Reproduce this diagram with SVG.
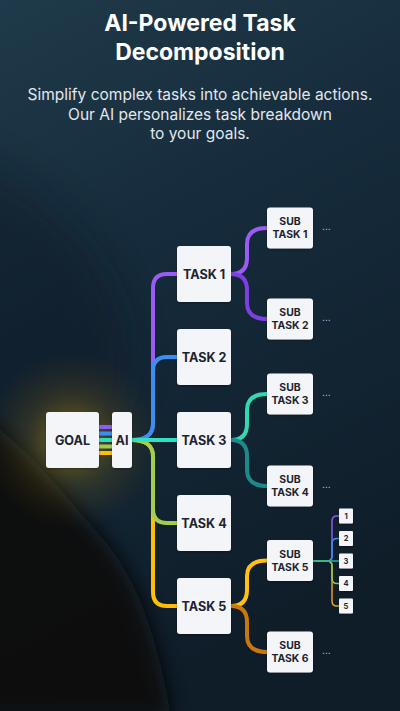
<svg xmlns="http://www.w3.org/2000/svg" width="400" height="711" viewBox="0 0 400 711">
<defs>
<linearGradient id="bg" x1="0" y1="0" x2="0.3" y2="1">
<stop offset="0" stop-color="#1f3a4a"/>
<stop offset="0.45" stop-color="#152a3a"/>
<stop offset="1" stop-color="#0f1d29"/>
</linearGradient>
<radialGradient id="glow" cx="72" cy="440" r="90" gradientUnits="userSpaceOnUse">
<stop offset="0" stop-color="#d4a514" stop-opacity="0.6"/>
<stop offset="0.5" stop-color="#8a6a12" stop-opacity="0.25"/>
<stop offset="1" stop-color="#5a4410" stop-opacity="0"/>
</radialGradient>
<filter id="blur" x="-50%" y="-50%" width="200%" height="200%"><feGaussianBlur stdDeviation="10"/></filter>
<filter id="blur2" x="-50%" y="-50%" width="200%" height="200%"><feGaussianBlur stdDeviation="20"/></filter>
<filter id="sh" x="-20%" y="-20%" width="140%" height="140%"><feDropShadow dx="0" dy="1" stdDeviation="1.2" flood-color="#000" flood-opacity="0.35"/></filter>
<style>
.box{fill:#f3f5f8;filter:url(#sh)}
.lbl{font-family:Inter,"Liberation Sans",sans-serif;font-weight:700;fill:#1d2430;text-anchor:middle}
.t{font-size:12.6px}
.s{font-size:10.4px}
.n{font-size:7.5px}
.c{fill:none;stroke-width:4;stroke-linecap:round;stroke-linejoin:round}
.m{fill:none;stroke-width:1.5;stroke-linecap:round}
.dots{font-family:Inter,"Liberation Sans",sans-serif;font-size:10px;fill:#c5cbd3}
.title{font-family:Inter,"Liberation Sans",sans-serif;font-weight:700;font-size:23px;fill:#ffffff;text-anchor:middle}
.sub{font-family:Inter,"Liberation Sans",sans-serif;font-size:15.5px;fill:#e3e7ec;text-anchor:middle}
</style>
</defs>
<rect width="400" height="711" fill="url(#bg)"/>
<path d="M-80,140 C20,170 100,230 125,330 C135,380 120,420 100,440 L-80,440 Z" fill="#0c1822" opacity="0.45" filter="url(#blur2)"/>
<path d="M-60,395 C10,420 60,490 100,535 C140,580 158,640 172,720 L-60,720 Z" fill="#08090b" opacity="0.95" filter="url(#blur)"/>
<circle cx="72" cy="440" r="90" fill="url(#glow)"/>

<g id="title">
<text class="title" x="200" y="31">AI-Powered Task</text>
<text class="title" x="200" y="60">Decomposition</text>
<text class="sub" x="200" y="100">Simplify complex tasks into achievable actions.</text>
<text class="sub" x="200" y="119.5">Our AI personalizes task breakdown</text>
<text class="sub" x="200" y="139">to your goals.</text>
</g>

<g id="connectors">
<g id="goal-ai" stroke-width="4" fill="none">
<line x1="99" y1="427" x2="112" y2="427" stroke="#8b5cf6"/>
<line x1="99" y1="433.5" x2="112" y2="433.5" stroke="#3b8ff2"/>
<line x1="99" y1="440" x2="112" y2="440" stroke="#2fdcc0"/>
<line x1="99" y1="446.5" x2="112" y2="446.5" stroke="#9fce4a"/>
<line x1="99" y1="453" x2="112" y2="453" stroke="#ffbe0a"/>
</g>
<path class="c" stroke="#9a5cf4" d="M132,440 C146,440 153,434 153,424 V288 Q153,274 167,274 H177"/>
<path class="c" stroke="#3b8ff2" d="M132,440 C146,440 153,434 153,424 V371 Q153,357 167,357 H177"/>
<path class="c" stroke="#ffbe0a" d="M132,440 C146,440 153,446 153,456 V592 Q153,606 167,606 H177"/>
<path class="c" stroke="#a3d04c" d="M132,440 C146,440 153,446 153,456 V509 Q153,523 167,523 H177"/>
<path class="c" stroke="#2fe0c2" d="M132,440 H177"/>

<path class="c" stroke="#9a5cf4" d="M231,274 C242,274 247,268 247,258 V244 C247,234 253,228 267,228"/>
<path class="c" stroke="#7b3fe4" d="M231,274 C242,274 247,280 247,290 V303 C247,313 253,319 267,319"/>
<path class="c" stroke="#2ed9b4" d="M231,440 C242,440 247,434 247,424 V410 C247,400 253,394 267,394"/>
<path class="c" stroke="#1d8a8a" d="M231,440 C242,440 247,446 247,456 V470 C247,480 253,486 267,486"/>
<path class="c" stroke="#ffc20e" d="M231,606 C242,606 247,600 247,590 V576 C247,566 253,560.5 267,560.5"/>
<path class="c" stroke="#c9780f" d="M231,606 C242,606 247,612 247,622 V636 C247,646 253,652 267,652"/>

<path class="m" stroke="#8a5cf0" d="M313,561 H327 Q332,561 332,556 V521 Q332,516 337,516 H339"/>
<path class="m" stroke="#3b8ff2" d="M313,561 H327 Q332,561 332,556 V543.5 Q332,538.5 337,538.5 H339"/>
<path class="m" stroke="#e6a11c" d="M313,561 H327 Q332,561 332,566 V601 Q332,606 337,606 H339"/>
<path class="m" stroke="#9bc34a" d="M313,561 H327 Q332,561 332,566 V578.5 Q332,583.5 337,583.5 H339"/>
<path class="m" stroke="#1fb39a" d="M313,561 H339"/>
</g>

<g id="goal"><rect class="box" x="46" y="412" width="53" height="56" rx="3"/><text class="lbl t" x="72.5" y="445">GOAL</text></g>
<g id="ai"><rect class="box" x="112" y="412" width="20" height="56" rx="3"/><text class="lbl t" x="122" y="445">AI</text></g>

<g id="task1"><rect class="box" x="177" y="246" width="54" height="56" rx="3"/><text class="lbl t" x="204" y="278.5">TASK 1</text></g>
<g id="task2"><rect class="box" x="177" y="329" width="54" height="56" rx="3"/><text class="lbl t" x="204" y="361.5">TASK 2</text></g>
<g id="task3"><rect class="box" x="177" y="412" width="54" height="56" rx="3"/><text class="lbl t" x="204" y="444.5">TASK 3</text></g>
<g id="task4"><rect class="box" x="177" y="495" width="54" height="56" rx="3"/><text class="lbl t" x="204" y="527.5">TASK 4</text></g>
<g id="task5"><rect class="box" x="177" y="578" width="54" height="56" rx="3"/><text class="lbl t" x="204" y="610.5">TASK 5</text></g>

<g id="subtask1"><rect class="box" x="267" y="207.5" width="46" height="41" rx="3"/><text class="lbl s" x="290" y="225">SUB</text><text class="lbl s" x="290" y="238">TASK 1</text></g>
<g id="subtask2"><rect class="box" x="267" y="298.5" width="46" height="41" rx="3"/><text class="lbl s" x="290" y="316">SUB</text><text class="lbl s" x="290" y="329">TASK 2</text></g>
<g id="subtask3"><rect class="box" x="267" y="373.5" width="46" height="41" rx="3"/><text class="lbl s" x="290" y="391">SUB</text><text class="lbl s" x="290" y="404">TASK 3</text></g>
<g id="subtask4"><rect class="box" x="267" y="465.5" width="46" height="41" rx="3"/><text class="lbl s" x="290" y="483">SUB</text><text class="lbl s" x="290" y="496">TASK 4</text></g>
<g id="subtask5"><rect class="box" x="267" y="540" width="46" height="41" rx="3"/><text class="lbl s" x="290" y="557.5">SUB</text><text class="lbl s" x="290" y="570.5">TASK 5</text></g>
<g id="subtask6"><rect class="box" x="267" y="631.5" width="46" height="41" rx="3"/><text class="lbl s" x="290" y="649">SUB</text><text class="lbl s" x="290" y="662">TASK 6</text></g>

<g id="more">
<text class="dots" x="322" y="230">...</text>
<text class="dots" x="322" y="321">...</text>
<text class="dots" x="322" y="396">...</text>
<text class="dots" x="322" y="488">...</text>
<text class="dots" x="322" y="654">...</text>
</g>

<g id="step1"><rect class="box" x="339" y="508.5" width="14" height="15" rx="1"/><text class="lbl n" x="346" y="518.7">1</text></g>
<g id="step2"><rect class="box" x="339" y="531" width="14" height="15" rx="1"/><text class="lbl n" x="346" y="541.2">2</text></g>
<g id="step3"><rect class="box" x="339" y="553.5" width="14" height="15" rx="1"/><text class="lbl n" x="346" y="563.7">3</text></g>
<g id="step4"><rect class="box" x="339" y="576" width="14" height="15" rx="1"/><text class="lbl n" x="346" y="586.2">4</text></g>
<g id="step5"><rect class="box" x="339" y="598.5" width="14" height="15" rx="1"/><text class="lbl n" x="346" y="608.7">5</text></g>
</svg>
